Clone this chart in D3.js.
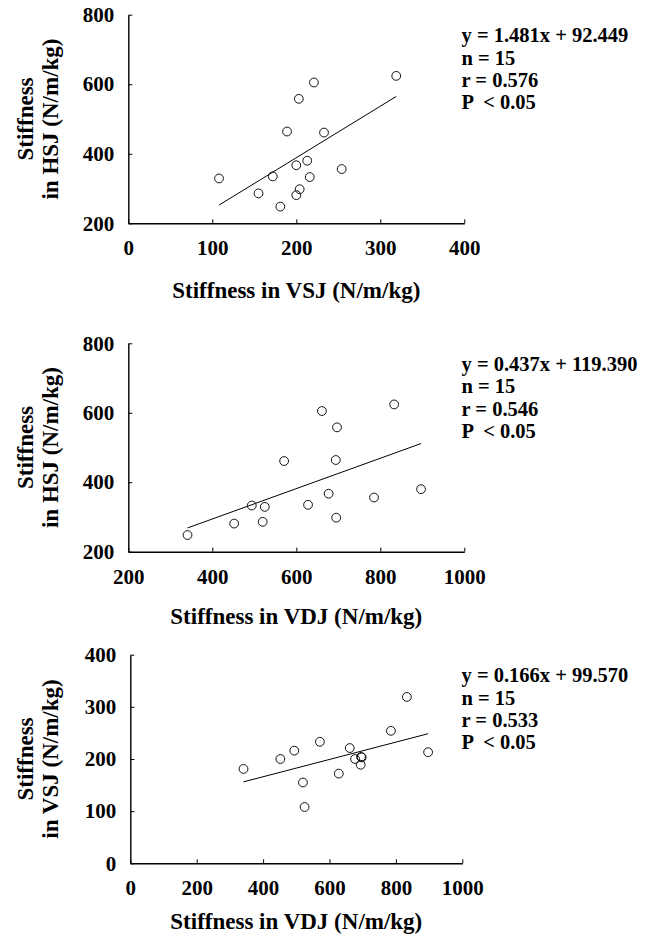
<!DOCTYPE html>
<html>
<head>
<meta charset="utf-8">
<script src="https://cdn.jsdelivr.net/npm/d3@7"></script>
<style>
  body { margin: 0; background: #fff; }
  svg { display: block; font-family: "Liberation Serif", "Times New Roman", serif; font-weight: bold; }
</style>
</head>
<body>
<div id="chart"></div>
<script>
// stiffness per subject (N/m/kg), n = 15
const vsj = [181, 200, 155, 108, 216, 172, 233, 221, 200, 189, 204, 203, 254, 319, 213];
const hsj = [248, 281, 286, 329, 333, 335, 461, 605, 367, 464, 298, 558, 356, 624, 380];
const vdj = [341, 452, 520, 525, 494, 628, 571, 661, 677, 694, 695, 697, 785, 833, 897];

// regression results per panel
const slopes = [1.481, 0.437, 0.166];
const intercepts = [92.449, 119.390, 99.570];
const rValues = ["0.576", "0.546", "0.533"];

// axis settings per panel
const xDomains = [[0, 400], [200, 1000], [0, 1000]];
const yDomains = [[200, 800], [200, 800], [0, 400]];
const xTicks = [[0, 100, 200, 300, 400], [200, 400, 600, 800, 1000], [0, 200, 400, 600, 800, 1000]];
const yTicks = [[200, 400, 600, 800], [200, 400, 600, 800], [0, 100, 200, 300, 400]];
const xTitles = ["Stiffness in VSJ (N/m/kg)", "Stiffness in VDJ (N/m/kg)", "Stiffness in VDJ (N/m/kg)"];
const yTitles = ["in HSJ (N/m/kg)", "in HSJ (N/m/kg)", "in VSJ (N/m/kg)"];

const panels = [
    { x: vsj, y: hsj, top: 14.7, bottom: 223.3, left: 128.3, right: 464.3, titleGap: 75 },
    { x: vdj, y: hsj, top: 343.3, bottom: 551.7, left: 128.3, right: 464.3, titleGap: 72.5 },
    { x: vdj, y: vsj, top: 654.7, bottom: 863.3, left: 130.3, right: 462.3, titleGap: 66 }
];

const width = 656, height = 936;
const svg = d3.select("#chart").append("svg").attr("width", width).attr("height", height);

panels.forEach((p, i) => {
    const x = d3.scaleLinear().domain(xDomains[i]).range([p.left, p.right]);
    const y = d3.scaleLinear().domain(yDomains[i]).range([p.bottom, p.top]);
    const g = svg.append("g");

    // axes with short inward ticks
    const xAxis = g.append("g").attr("transform", `translate(0,${p.bottom})`)
        .call(d3.axisBottom(x).tickValues(xTicks[i]).tickFormat(d3.format("d"))
            .tickSizeInner(-4).tickSizeOuter(0).tickPadding(17));
    const yAxis = g.append("g").attr("transform", `translate(${p.left},0)`)
        .call(d3.axisLeft(y).tickValues(yTicks[i]).tickFormat(d3.format("d"))
            .tickSizeInner(-4).tickSizeOuter(0).tickPadding(14));
    [xAxis, yAxis].forEach(a => {
        a.attr("font-family", null).attr("font-size", null);
        a.select(".domain").attr("stroke", "#000").attr("stroke-width", 1.4);
        a.selectAll(".tick line").attr("stroke", "#000").attr("stroke-width", 1);
        a.selectAll(".tick text").attr("fill", "#000").style("font-size", "21px");
    });

    // regression line over the data range
    const [x0, x1] = d3.extent(p.x);
    g.append("line")
        .attr("x1", x(x0)).attr("y1", y(slopes[i] * x0 + intercepts[i]))
        .attr("x2", x(x1)).attr("y2", y(slopes[i] * x1 + intercepts[i]))
        .attr("stroke", "#000").attr("stroke-width", 1);

    // points
    g.append("g").selectAll("circle").data(p.x.map((v, k) => [v, p.y[k]])).enter().append("circle")
        .attr("cx", d => x(d[0])).attr("cy", d => y(d[1])).attr("r", 4.4)
        .attr("fill", "none").attr("stroke", "#111").attr("stroke-width", 1);

    // axis titles
    g.append("text").attr("x", (p.left + p.right) / 2).attr("y", p.bottom + p.titleGap)
        .attr("text-anchor", "middle").style("font-size", "23px").text(xTitles[i]);
    const mid = (p.top + p.bottom) / 2;
    g.append("text").attr("transform", `translate(33,${mid}) rotate(-90)`)
        .attr("text-anchor", "middle").style("font-size", "23px").text("Stiffness");
    g.append("text").attr("transform", `translate(57.5,${mid}) rotate(-90)`)
        .attr("text-anchor", "middle").style("font-size", "23px").text(yTitles[i]);

    // regression stats
    const lines = [
        `y = ${slopes[i].toFixed(3)}x + ${intercepts[i].toFixed(3)}`,
        `n = ${p.x.length}`,
        `r = ${rValues[i]}`,
        "P  < 0.05"
    ];
    g.append("g").selectAll("text").data(lines).enter().append("text")
        .attr("x", 461.5).attr("y", (d, k) => p.top + 27.5 + k * 22.4)
        .style("font-size", "20.5px").style("white-space", "pre").text(d => d);
});
</script>
</body>
</html>
